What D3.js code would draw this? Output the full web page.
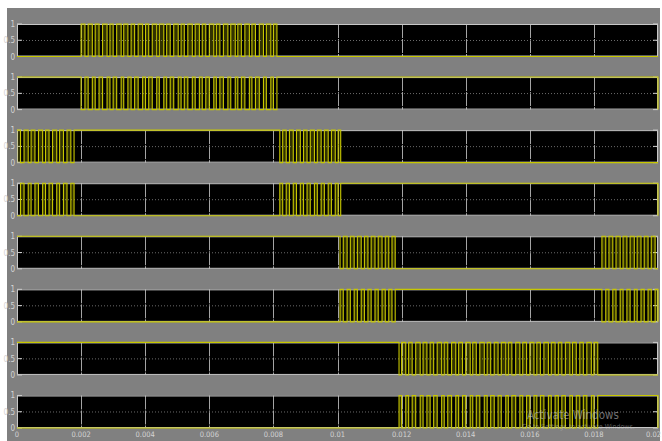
<!DOCTYPE html>
<html>
<head>
<meta charset="utf-8">
<script src="https://cdn.jsdelivr.net/npm/d3@7"></script>
<style>
  html, body { margin: 0; padding: 0; background: #ffffff; }
  svg { display: block; }
  text { font-family: "Liberation Sans Narrow", "DejaVu Sans Condensed", "Liberation Sans", sans-serif; }
</style>
</head>
<body>
<svg id="chart" width="662" height="441"></svg>
<script>
// Time axis (seconds)
const timeTicks = [0, 0.002, 0.004, 0.006, 0.008, 0.01, 0.012, 0.014, 0.016, 0.018, 0.02];
const timeTickLabels = ["0", "0.002", "0.004", "0.006", "0.008", "0.01", "0.012", "0.014", "0.016", "0.018", "0.02"];
const levelTicks = [0, 0.5, 1];
const levelTickLabels = ["0", "0.5", "1"];

// Gate pulse trains: [rise, fall] times in seconds
const pulsesA = [
  [0.00200, 0.00212], [0.00222, 0.00235], [0.00244, 0.00256], [0.00267, 0.00281],
  [0.00290, 0.00300], [0.00311, 0.00325], [0.00333, 0.00346], [0.00356, 0.00367],
  [0.00378, 0.00392], [0.00401, 0.00411], [0.00422, 0.00436], [0.00444, 0.00458],
  [0.00467, 0.00478], [0.00489, 0.00503], [0.00512, 0.00522], [0.00533, 0.00547],
  [0.00556, 0.00569], [0.00578, 0.00589], [0.00600, 0.00614], [0.00622, 0.00633],
  [0.00644, 0.00658], [0.00667, 0.00681], [0.00689, 0.00700], [0.00711, 0.00725],
  [0.00733, 0.00744], [0.00756, 0.00769], [0.00778, 0.00792], [0.00800, 0.00811]
];
const pulsesB1 = [
  [0.00000, 0.00011], [0.00022, 0.00035], [0.00044, 0.00056], [0.00067, 0.00080],
  [0.00089, 0.00100], [0.00111, 0.00124], [0.00133, 0.00145], [0.00156, 0.00168]
];
const holdB = [0.00178, 0.00820];
const pulsesB2 = [
  [0.00829, 0.00840], [0.00850, 0.00862], [0.00872, 0.00884], [0.00894, 0.00905],
  [0.00915, 0.00928], [0.00937, 0.00949], [0.00959, 0.00971], [0.00981, 0.00993],
  [0.01002, 0.01010]
];
const holdC = [0, 0.01008];
const pulsesC1 = [
  [0.01018, 0.01030], [0.01040, 0.01052], [0.01062, 0.01074], [0.01084, 0.01095],
  [0.01105, 0.01117], [0.01127, 0.01139], [0.01149, 0.01160], [0.01170, 0.01180]
];
const pulsesC2 = [
  [0.01825, 0.01837], [0.01847, 0.01859], [0.01869, 0.01882], [0.01891, 0.01903],
  [0.01913, 0.01926], [0.01935, 0.01947], [0.01957, 0.01969], [0.01979, 0.01991]
];
const holdD = [0, 0.01192];
const pulsesD = [
  [0.01200, 0.01213], [0.01222, 0.01233], [0.01244, 0.01258], [0.01267, 0.01279],
  [0.01289, 0.01300], [0.01311, 0.01325], [0.01333, 0.01344], [0.01356, 0.01369],
  [0.01378, 0.01390], [0.01400, 0.01414], [0.01422, 0.01433], [0.01444, 0.01458],
  [0.01467, 0.01478], [0.01489, 0.01501], [0.01511, 0.01525], [0.01533, 0.01544],
  [0.01556, 0.01569], [0.01578, 0.01590], [0.01600, 0.01613], [0.01622, 0.01633],
  [0.01644, 0.01658], [0.01667, 0.01679], [0.01689, 0.01700], [0.01711, 0.01725],
  [0.01733, 0.01745], [0.01756, 0.01767], [0.01778, 0.01792], [0.01800, 0.01812]
];

const tEnd = 0.02;

// Complementary switch: high wherever its partner is low
function complement(high) {
  const out = [];
  let cursor = 0;
  high.forEach(([a, b]) => {
    if (a > cursor) out.push([cursor, a]);
    cursor = b;
  });
  if (cursor < tEnd) out.push([cursor, tEnd]);
  return out;
}

const s1 = pulsesA;
const s3 = [...pulsesB1, holdB, ...pulsesB2];
const s5 = [holdC, ...pulsesC1, ...pulsesC2];
const s7 = [holdD, ...pulsesD];
const signals = [s1, complement(s1), s3, complement(s3), s5, complement(s5), s7, complement(s7)];

// Layout
const svg = d3.select("#chart");
const W = 662, H = 441;
const left = 17, right = 658;

svg.append("rect").attr("x", 7).attr("y", 8).attr("width", 653).attr("height", H - 8).attr("fill", "#808080");

const x = d3.scaleLinear().domain([0, tEnd]).range([left, right]);
const band = d3.scaleBand().domain(d3.range(signals.length)).range([24, 428]).paddingInner(0.387);
const bh = band.bandwidth();
const y = d3.scaleLinear().domain([0, 1]).range([bh, 0]);

const lineGen = d3.line().x(d => x(d[0])).y(d => y(d[1])).curve(d3.curveStepAfter);

signals.forEach((high, i) => {
  const g = svg.append("g").attr("transform", `translate(0,${band(i)})`);

  g.append("rect").attr("x", left).attr("y", 0).attr("width", right - left).attr("height", bh).attr("fill", "#000");

  // grid
  g.selectAll(".vg").data(timeTicks.slice(1, -1)).join("line")
    .attr("x1", d => Math.round(x(d)) + 0.5).attr("x2", d => Math.round(x(d)) + 0.5)
    .attr("y1", 0).attr("y2", bh)
    .attr("stroke", "#a4a4a4").attr("stroke-width", 1).attr("stroke-dasharray", "14,1");
  g.append("line")
    .attr("x1", left).attr("x2", right)
    .attr("y1", Math.round(y(0.5)) + 0.5).attr("y2", Math.round(y(0.5)) + 0.5)
    .attr("stroke", "#6a6a6a").attr("stroke-width", 1).attr("stroke-dasharray", "1,2");

  // inward ticks
  g.selectAll(".yt").data(levelTicks).join("line")
    .attr("x1", left).attr("x2", left + 5)
    .attr("y1", d => y(d)).attr("y2", d => y(d))
    .attr("stroke", "#d0d0d0");
  g.selectAll(".yt2").data(levelTicks).join("line")
    .attr("x1", right - 5).attr("x2", right)
    .attr("y1", d => y(d)).attr("y2", d => y(d))
    .attr("stroke", "#d0d0d0");

  g.append("rect").attr("x", left + 0.5).attr("y", 0.5).attr("width", right - left - 1).attr("height", bh - 1)
    .attr("fill", "none").attr("stroke", "#c8c8c8").attr("stroke-width", 1);

  // tick labels
  g.selectAll(".yl").data(levelTicks).join("text")
    .attr("x", left - 2).attr("y", d => y(d) + 3)
    .attr("text-anchor", "end").attr("font-size", 8).attr("fill", "#d4d4d4")
    .text((d, k) => levelTickLabels[k]);

  // pulse shading (short high intervals only)
  g.selectAll(".pf").data(high.filter(([a, b]) => b - a < 0.0004)).join("rect")
    .attr("x", d => x(d[0])).attr("width", d => x(d[1]) - x(d[0]))
    .attr("y", y(1)).attr("height", y(0) - y(1))
    .attr("fill", "#c8c800").attr("fill-opacity", 0.25);

  // step waveform
  const pts = [];
  if (high.length === 0 || high[0][0] > 0) pts.push([0, 0]);
  high.forEach(([a, b]) => { pts.push([a, 1]); pts.push([b, 0]); });
  if (pts[pts.length - 1][0] < tEnd) pts.push([tEnd, 0]);
  g.append("path").attr("d", lineGen(pts))
    .attr("fill", "none").attr("stroke", "#c8c800").attr("stroke-width", 1.1);
});

// time labels under the last panel
const lastTop = band(signals.length - 1);
svg.selectAll(".xl").data(timeTicks).join("text")
  .attr("x", (d, k) => k === timeTicks.length - 1 ? 661 : x(d))
  .attr("y", lastTop + bh + 9)
  .attr("text-anchor", (d, k) => k === timeTicks.length - 1 ? "end" : "middle")
  .attr("font-size", 7.5).attr("fill", "#d4d4d4")
  .text((d, k) => timeTickLabels[k]);

// desktop watermark
svg.append("text").attr("x", 527).attr("y", 419).attr("font-size", 11.5)
  .attr("fill", "#bdbdbd").attr("fill-opacity", 0.6).text("Activate Windows");
svg.append("text").attr("x", 522).attr("y", 429).attr("font-size", 7)
  .attr("fill", "#bdbdbd").attr("fill-opacity", 0.5).text("Go to Settings to activate Windows.");
</script>
</body>
</html>
